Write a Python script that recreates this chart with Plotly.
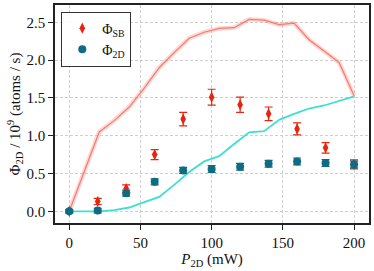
import plotly.graph_objects as go

# measured data
power_mw = [0, 20, 40, 60, 80, 100, 120, 140, 160, 180, 200]
phi_sb = [0.0, 0.13, 0.30, 0.75, 1.22, 1.51, 1.41, 1.29, 1.09, 0.84, 0.62]
phi_sb_err = [0.02, 0.04, 0.05, 0.065, 0.09, 0.105, 0.10, 0.09, 0.08, 0.07, 0.06]
phi_2d = [0.0, 0.01, 0.24, 0.39, 0.54, 0.56, 0.59, 0.63, 0.66, 0.64, 0.62]
phi_2d_err = [0.02, 0.03, 0.04, 0.04, 0.04, 0.045, 0.045, 0.045, 0.045, 0.045, 0.045]

# simulation curves
sim_power = [0, 10.53, 21.05, 31.58, 42.11, 52.63, 63.16, 73.68, 84.21, 94.74,
             105.26, 115.79, 126.32, 136.84, 147.37, 157.89, 168.42, 178.95, 189.47, 200]
sim_sb = [0.0, 0.52, 1.05, 1.20, 1.38, 1.63, 1.90, 2.10, 2.29, 2.37,
          2.42, 2.43, 2.54, 2.53, 2.47, 2.49, 2.27, 2.12, 1.97, 1.53]
sim_2d = [0.0, 0.0, 0.0, 0.015, 0.05, 0.12, 0.19, 0.35, 0.52, 0.66,
          0.73, 0.89, 1.045, 1.06, 1.21, 1.29, 1.36, 1.40, 1.46, 1.52]

RED = "#e8250c"
TEAL = "#0e6b82"
SALMON = "#f77b72"
CYAN = "#3de0cf"

fig = go.Figure()
fig.add_trace(go.Scatter(x=sim_power, y=sim_sb, mode="lines",
                         line=dict(color="rgba(247,123,114,0.3)", width=4.5),
                         showlegend=False, hoverinfo="skip"))
fig.add_trace(go.Scatter(x=sim_power, y=sim_sb, mode="lines",
                         line=dict(color=SALMON, width=1.2),
                         showlegend=False))
fig.add_trace(go.Scatter(x=sim_power, y=sim_2d, mode="lines",
                         line=dict(color=CYAN, width=1.8),
                         showlegend=False))
fig.add_trace(go.Scatter(x=power_mw, y=phi_sb, mode="markers", name="Φ<sub>SB</sub>",
                         marker=dict(symbol="diamond-tall", size=8, color=RED),
                         error_y=dict(type="data", array=phi_sb_err, color=RED,
                                      thickness=1.2, width=4)))
fig.add_trace(go.Scatter(x=power_mw, y=phi_2d, mode="markers", name="Φ<sub>2D</sub>",
                         marker=dict(symbol="circle", size=8, color=TEAL),
                         error_y=dict(type="data", array=phi_2d_err, color=TEAL,
                                      thickness=1.2, width=4)))

axis_common = dict(
    showline=True, linecolor="#222", linewidth=1.5, mirror=True,
    ticks="outside", ticklen=5, tickwidth=1.2, tickcolor="#222",
    showgrid=True, gridcolor="#cfcfcf", griddash="3px,2px", gridwidth=1,
    zeroline=False, automargin=False,
    tickfont=dict(family="Liberation Serif", size=15, color="#111"),
)

fig.update_layout(
    width=374, height=271,
    margin=dict(l=55, r=5, t=5, b=48),
    paper_bgcolor="white", plot_bgcolor="white",
    font=dict(family="Liberation Serif", size=15, color="#111"),
    xaxis=dict(range=[-10, 210.5], tickvals=[0, 50, 100, 150, 200],
               title=dict(text="<i>P</i><sub>2D</sub> (mW)", standoff=0,
                          font=dict(family="Liberation Serif", size=15)),
               **axis_common),
    yaxis=dict(range=[-0.155, 2.73], tickvals=[0, 0.5, 1.0, 1.5, 2.0, 2.5],
               tickformat=".1f",
               title=dict(text="Φ<sub>2D</sub> / 10<sup>9</sup> (atoms / s)", standoff=2,
                          font=dict(family="Liberation Serif", size=15)),
               **axis_common),
    legend=dict(x=0.02, y=0.97, xanchor="left", yanchor="top",
                bgcolor="rgba(255,255,255,0.9)", bordercolor="#333", borderwidth=1,
                font=dict(family="Liberation Serif", size=14),
                itemwidth=30, tracegroupgap=0),
    showlegend=True,
)

fig.write_html("out.html", config={"displayModeBar": False},
               post_script="document.body.style.margin='0';")
